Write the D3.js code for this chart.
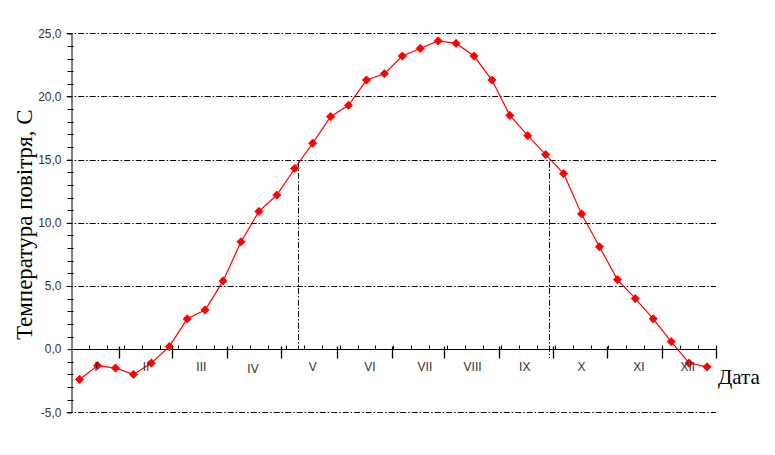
<!DOCTYPE html>
<html>
<head>
<meta charset="utf-8">
<script src="https://cdn.jsdelivr.net/npm/d3@7"></script>
<style>
  html, body { margin: 0; padding: 0; background: #fff; }
  svg { display: block; }
</style>
</head>
<body>
<svg id="chart" width="775" height="455"></svg>
<script>
// ---- data ----
// dekad (10-day) mean air temperatures, 36 per year
const dekads = d3.range(36);
const temperature = [-2.4, -1.3, -1.5, -2.0, -1.1, 0.2, 2.4, 3.1, 5.4, 8.5, 10.9, 12.2,
  14.3, 16.3, 18.4, 19.3, 21.3, 21.8, 23.2, 23.8, 24.4, 24.2, 23.2, 21.3,
  18.5, 16.9, 15.4, 13.9, 10.7, 8.1, 5.5, 4.0, 2.4, 0.6, -1.1, -1.4];
const months = ["I", "II", "III", "IV", "V", "VI", "VII", "VIII", "IX", "X", "XI", "XII"];
// month boundaries and month-label centres in dekad-index units
const monthBounds = [-0.5, 2.21, 5.17, 8.2, 11.25, 14.34, 17.4, 20.34, 23.4, 26.42, 29.43, 32.49, 35.5];
const monthLabelAt = [0.91, 3.7, 6.79, 9.67, 13.0, 16.19, 19.26, 21.92, 24.83, 27.99, 31.2, 33.93];
// dates when temperature passes 15 °C (dekad-index units)
const crossings = [12.2, 26.2];
const yTicks = [-5, 0, 5, 10, 15, 20, 25];
const yTitle = "Температура повітря, С";
const xTitle = "Дата";

// ---- layout ----
const svg = d3.select("#chart");
const x = d3.scaleLinear().domain([-0.5, 35.5]).range([70.7, 716]);
const y = d3.scaleLinear().domain([-5, 25]).range([412.3, 33.3]);
const fmt = v => d3.format(".1f")(v).replace(".", ",").replace("−", "-");

// horizontal dash-dot grid lines
svg.append("g").selectAll("line")
  .data(yTicks.filter(v => v !== 0))
  .join("line")
  .attr("x1", x(-0.5) - 4).attr("x2", x(35.5))
  .attr("y1", d => Math.round(y(d)) + 0.5).attr("y2", d => Math.round(y(d)) + 0.5)
  .attr("stroke", "#000").attr("stroke-width", 1)
  .attr("stroke-dasharray", "6,2,1.5,2");

// y axis with labels
const yAxis = d3.axisLeft(y).tickValues(yTicks).tickSize(4).tickPadding(6).tickFormat(fmt);
const gy = svg.append("g").attr("transform", `translate(${Math.round(x(-0.5)) + 0.5},0)`).call(yAxis);
gy.select(".domain").attr("stroke", "#000");
gy.selectAll(".tick line").attr("stroke", "#000");
gy.selectAll(".tick text").attr("font-family", "Liberation Sans, Arial, sans-serif")
  .attr("font-size", 12).attr("fill", "#333");
// y minor ticks (every 1 unit)
gy.append("g").selectAll("line")
  .data(d3.range(-5, 26).filter(v => v % 5 !== 0))
  .join("line")
  .attr("x1", -4).attr("x2", 2)
  .attr("y1", d => Math.round(y(d)) + 0.5).attr("y2", d => Math.round(y(d)) + 0.5)
  .attr("stroke", "#000");

// x axis at 0
const y0 = Math.round(y(0)) + 0.5;
svg.append("line").attr("x1", x(-0.5)).attr("x2", x(35.5))
  .attr("y1", y0).attr("y2", y0).attr("stroke", "#000").attr("stroke-width", 1);
// minor ticks at dekad boundaries
svg.append("g").selectAll("line")
  .data(d3.range(0.5, 35.6, 1))
  .join("line")
  .attr("x1", d => Math.round(x(d)) + 0.5).attr("x2", d => Math.round(x(d)) + 0.5)
  .attr("y1", y0 - 4).attr("y2", y0)
  .attr("stroke", "#000");
// month boundary ticks
svg.append("g").selectAll("line")
  .data(monthBounds.slice(1))
  .join("line")
  .attr("x1", d => Math.round(x(d)) + 0.5).attr("x2", d => Math.round(x(d)) + 0.5)
  .attr("y1", y0 - 3).attr("y2", y0 + 9)
  .attr("stroke", "#000").attr("stroke-width", 1.3);

// 15 °C crossing dash-dot verticals
svg.append("g").selectAll("line")
  .data(crossings)
  .join("line")
  .attr("x1", d => Math.round(x(d)) + 0.5).attr("x2", d => Math.round(x(d)) + 0.5)
  .attr("y1", y(15) + 2).attr("y2", (d, i) => i === 0 ? y(0) : y(-0.7))
  .attr("stroke", "#000").attr("stroke-dasharray", "6,2,1.5,2");

// series line
svg.append("path")
  .datum(dekads)
  .attr("fill", "none").attr("stroke", "#ff0000").attr("stroke-width", 1.2)
  .attr("d", d3.line().x(i => x(i)).y(i => y(temperature[i])));
// diamond markers
svg.append("g").selectAll("path")
  .data(dekads)
  .join("path")
  .attr("transform", i => `translate(${x(i)},${y(temperature[i])}) rotate(45)`)
  .attr("d", d3.symbol(d3.symbolSquare, 34))
  .attr("fill", "#ff0000").attr("stroke", "#ff0000").attr("stroke-width", 0.8);

// month labels (drawn over the markers)
svg.append("g").selectAll("text")
  .data(months)
  .join("text")
  .attr("x", (d, i) => x(monthLabelAt[i]))
  .attr("y", (d, i) => y0 + (i === 3 ? 23 : 21))
  .attr("text-anchor", "middle")
  .attr("font-family", "Liberation Sans, Arial, sans-serif")
  .attr("font-size", 12).attr("fill", "#333")
  .text(d => d);

// titles
svg.append("text")
  .attr("transform", `translate(32,${(y(25) + y(-5)) / 2 + 2}) rotate(-90)`)
  .attr("text-anchor", "middle")
  .attr("font-family", "Liberation Serif, Times New Roman, serif")
  .attr("font-size", 23).attr("fill", "#000")
  .text(yTitle);
svg.append("text")
  .attr("x", 718).attr("y", 384)
  .attr("font-family", "Liberation Serif, Times New Roman, serif")
  .attr("font-size", 21).attr("fill", "#000")
  .text(xTitle);
</script>
</body>
</html>
